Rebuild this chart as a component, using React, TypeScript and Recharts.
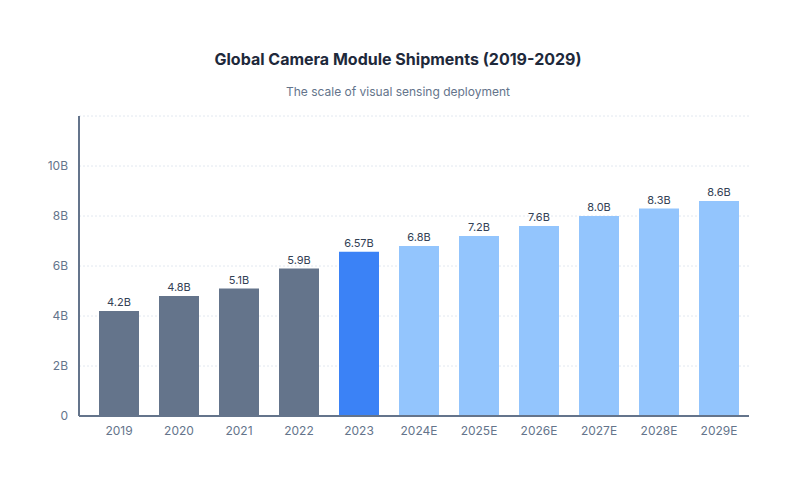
import React from "react";
import { BarChart, Bar, XAxis, YAxis, CartesianGrid, Cell, LabelList } from "recharts";

// Shipments in billions of units; "E" years are estimates
const years = ["2019", "2020", "2021", "2022", "2023", "2024E", "2025E", "2026E", "2027E", "2028E", "2029E"];
const shipments = [4.2, 4.8, 5.1, 5.9, 6.57, 6.8, 7.2, 7.6, 8.0, 8.3, 8.6];
const periodKind = ["past", "past", "past", "past", "current", "forecast", "forecast", "forecast", "forecast", "forecast", "forecast"];
const yTicks = [0, 2, 4, 6, 8, 10, 12];

const kindColor: Record<string, string> = {
  past: "#64748b",
  current: "#3b82f6",
  forecast: "#93c5fd",
};

const data = years.map((year, i) => ({ year, value: shipments[i], kind: periodKind[i] }));

const FONT = "Inter, 'Noto Sans', sans-serif";

const formatValue = (v: number) => {
  const rounded1 = Math.round(v * 10) / 10;
  const text = Math.abs(rounded1 - v) < 1e-9 ? v.toFixed(1) : String(v);
  return `${text}B`;
};

const YTick = (props: any) => {
  const { x, y, payload } = props;
  if (payload.value === 12) return null;
  return (
    <text x={x} y={y} dy="0.355em" textAnchor="end" fill="#64748b" fontSize={12} fontFamily={FONT}>
      {payload.value === 0 ? "0" : `${payload.value}B`}
    </text>
  );
};

export default function App() {
  return (
    <div
      style={{
        position: "absolute",
        left: 0,
        top: 0,
        width: 796,
        height: 490,
        background: "#ffffff",
        fontFamily: FONT,
      }}
    >
      <div
        style={{
          position: "absolute",
          top: 48,
          left: 0,
          width: 796,
          textAlign: "center",
          fontSize: 16,
          fontWeight: 700,
          color: "#1e293b",
          lineHeight: "22px",
        }}
      >
        Global Camera Module Shipments (2019-2029)
      </div>
      <div
        style={{
          position: "absolute",
          top: 84,
          left: 0,
          width: 796,
          textAlign: "center",
          fontSize: 12,
          color: "#64748b",
          lineHeight: "16px",
        }}
      >
        The scale of visual sensing deployment
      </div>
      <div style={{ position: "absolute", left: 0, top: 0 }}>
        <BarChart
          width={796}
          height={490}
          data={data}
          margin={{ top: 116, right: 47, bottom: 44, left: 19 }}
        >
          <CartesianGrid vertical={false} stroke="#e2e8f0" strokeDasharray="2 2" />
          <XAxis
            dataKey="year"
            height={30}
            padding={{ left: 10, right: 0 }}
            axisLine={{ stroke: "#64748b", strokeWidth: 2 }}
            tickLine={false}
            tickSize={0}
            tickMargin={10}
            tick={{ fill: "#64748b", fontSize: 12, fontFamily: FONT }}
            interval={0}
          />
          <YAxis
            width={60}
            domain={[0, 12]}
            ticks={yTicks}
            interval={0}
            axisLine={{ stroke: "#64748b", strokeWidth: 2 }}
            tickLine={false}
            tickSize={0}
            tickMargin={11}
            tick={<YTick />}
          />
          <Bar dataKey="value" barSize={40} isAnimationActive={false}>
            {data.map((d) => (
              <Cell key={d.year} fill={kindColor[d.kind]} />
            ))}
            <LabelList
              dataKey="value"
              position="top"
              offset={5}
              formatter={(v: any) => formatValue(Number(v))}
              style={{ fill: "#334155", fontSize: 11, fontFamily: FONT }}
            />
          </Bar>
        </BarChart>
      </div>
    </div>
  );
}
